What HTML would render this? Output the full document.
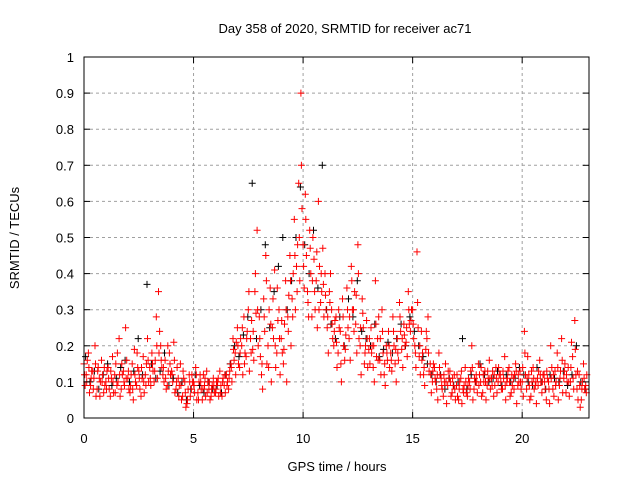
<!DOCTYPE html>
<html><head><meta charset="utf-8"><style>
body{margin:0;background:#fff}
svg{display:block;font-family:"Liberation Sans",sans-serif;font-size:13px}
</style></head><body>
<svg id="chart" width="640" height="480">
<rect width="640" height="480" fill="#fff"/>
<text x="345" y="33" text-anchor="middle">Day 358 of 2020, SRMTID for receiver ac71</text>
<g id="grid"></g>
<g id="series"></g>
<rect x="84" y="57" width="505" height="361" fill="none" stroke="#000"/>
<g id="axes"></g>
<text x="0" y="0" transform="translate(19,238) rotate(-90)" text-anchor="middle">SRMTID / TECUs</text>
<text x="337" y="471" text-anchor="middle">GPS time / hours</text>
</svg>
<script>
const xTicks=[0,5,10,15,20];
const yTicks=[0,0.1,0.2,0.3,0.4,0.5,0.6,0.7,0.8,0.9,1];
const yTickLabels=["0","0.1","0.2","0.3","0.4","0.5","0.6","0.7","0.8","0.9","1"];
const redA=[.15,.12,.18,.09,.13,.20,.08,.11,.16,.07,.10,.14,.06,.17,.12,.09,.22,.08,.13,.25,.11,.07,.15,.19,.09,.13,.06,.17,.12,.22,.14,.18,.10,.28,.35,.20,.12,.16,.09,.18,.13,.21,.08,.11,.15,.06,.10,.04,.12,.08,.10,.14,.07,.12,.05,.09,.13,.08,.06,.11,.07,.10,.13,.06,.09,.12,.08,.15,.22,.18,.25,.14,.20,.28,.17,.30,.22,.19,.35,.52,.28,.12,.33,.45,.20,.36,.25,.41,.18,.30,.22,.15,.38,.28,.45,.33,.55,.42,.65,.90,.48,.62,.35,.52,.28,.44,.38,.60,.32,.47,.40,.25,.35,.30,.20,.28,.18,.24,.33,.16,.36,.22,.42,.30,.26,.48,.20,.33,.15,.27,.19,.25,.14,.38,.22,.16,.30,.12,.20,.24,.18,.28,.15,.22,.32,.19,.26,.21,.35,.24,.30,.20,.46,.17,.24,.12,.19,.28,.15,.10,.14,.08,.18,.11,.06,.15,.09,.13,.07,.12,.09,.05,.11,.08,.14,.06,.10,.20,.08,.12,.15,.10,.07,.13,.09,.16,.11,.06,.14,.10,.12,.08,.17,.10,.14,.07,.11,.15,.09,.13,.10,.24,.08,.12,.06,.14,.09,.11,.16,.07,.12,.05,.10,.20,.08,.13,.18,.09,.22,.11,.07,.14,.10,.17,.27,.08,.12,.05,.15,.09];
const redB=[.09,.16,.07,.13,.11,.06,.14,.10,.12,.09,.13,.08,.11,.07,.15,.10,.06,.12,.09,.16,.08,.12,.05,.10,.14,.08,.11,.07,.15,.10,.09,.13,.16,.11,.24,.14,.10,.08,.13,.12,.10,.07,.14,.09,.05,.11,.03,.08,.06,.10,.07,.05,.10,.08,.12,.06,.10,.05,.09,.07,.10,.06,.09,.11,.07,.10,.13,.10,.16,.21,.15,.22,.12,.18,.24,.13,.27,.16,.29,.20,.17,.08,.24,.15,.30,.10,.22,.14,.27,.12,.18,.26,.10,.34,.20,.40,.30,.48,.38,.58,.36,.45,.28,.40,.50,.30,.25,.42,.35,.28,.30,.18,.40,.22,.27,.14,.25,.10,.20,.23,.25,.16,.30,.35,.18,.22,.12,.25,.20,.14,.15,.20,.10,.17,.28,.12,.18,.09,.16,.14,.13,.20,.10,.16,.24,.14,.20,.17,.26,.30,.22,.14,.25,.12,.18,.09,.22,.13,.07,.15,.10,.05,.12,.08,.10,.04,.11,.06,.09,.05,.06,.10,.04,.09,.07,.11,.13,.05,.10,.07,.12,.06,.10,.05,.11,.08,.13,.09,.07,.12,.08,.11,.05,.13,.06,.09,.12,.04,.10,.08,.06,.12,.17,.05,.10,.08,.04,.13,.10,.12,.08,.11,.04,.14,.06,.10,.05,.13,.07,.15,.10,.06,.21,.08,.12,.05,.03,.10,.08,.12];
const redC=[.12,.10,.14,.11,.08,.15,.13,.06,.10,.14,.08,.11,.13,.10,.07,.18,.12,.15,.10,.11,.13,.09,.08,.12,.18,.11,.14,.10,.09,.16,.11,.15,.13,.20,.18,.16,.14,.11,.20,.15,.12,.16,.10,.06,.09,.13,.07,.05,.10,.12,.09,.12,.05,.10,.08,.11,.07,.10,.08,.09,.08,.11,.07,.10,.12,.09,.11,.14,.19,.12,.20,.18,.25,.15,.22,.35,.18,.24,.40,.30,.22,.15,.28,.38,.14,.26,.33,.20,.36,.22,.27,.19,.30,.24,.38,.28,.45,.35,.50,.70,.42,.55,.32,.47,.38,.35,.46,.30,.40,.37,.34,.28,.32,.26,.24,.21,.30,.15,.28,.19,.30,.28,.38,.24,.34,.40,.25,.29,.18,.22,.22,.18,.20,.26,.16,.22,.24,.15,.18,.20,.16,.24,.19,.18,.28,.22,.23,.25,.30,.27,.26,.18,.32,.20,.16,.14,.24,.18,.12,.13,.11,.12,.14,.09,.12,.10,.13,.10,.11,.08,.12,.08,.13,.07,.10,.09,.08,.14,.11,.10,.09,.14,.12,.10,.13,.11,.09,.12,.11,.14,.10,.13,.09,.11,.10,.12,.08,.13,.12,.10,.14,.18,.11,.09,.13,.11,.10,.09,.12,.10,.10,.13,.08,.11,.12,.09,.14,.11,.16,.13,.12,.10,.14,.11,.19,.13,.09,.08,.11,.07];
const black=[.17,.10,.13,.08,.12,.15,.09,.11,.14,.16,.10,.13,.22,.12,.37,.15,.11,.13,.18,.09,.11,.07,.10,.05,.08,.12,.09,.07,.10,.08,.09,.07,.12,.15,.20,.17,.23,.28,.65,.22,.30,.48,.25,.35,.42,.50,.30,.38,.50,.64,.48,.40,.52,.36,.70,.30,.26,.22,.28,.20,.33,.28,.38,.24,.22,.20,.26,.17,.19,.21,.18,.22,.26,.20,.28,.24,.20,.17,.15,.12,.10,.12,.08,.11,.09,.10,.22,.08,.12,.10,.15,.12,.10,.11,.13,.09,.12,.10,.11,.14,.12,.10,.09,.14,.10,.08,.12,.11,.10,.13,.09,.12,.20,.10,.08];
const X0=84,X1=589,XMAX=23.05,Y0=418,Y1=57;
const sx=v=>X0+v/XMAX*(X1-X0);
const sy=v=>Y0-v*(Y0-Y1);
const NS="http://www.w3.org/2000/svg";
const grid=document.getElementById('grid'),axes=document.getElementById('axes'),ser=document.getElementById('series');
function mk(tag,at,par){const e=document.createElementNS(NS,tag);for(const k in at)e.setAttribute(k,at[k]);par.appendChild(e);return e;}
yTicks.forEach((v,i)=>{
  const y=sy(v);
  if(i>0&&i<yTicks.length-1){const g=mk('line',{x1:X0,x2:X1,y1:y,y2:y,stroke:'#a0a0a0','stroke-dasharray':'3,3'},grid);
  
  }
  mk('line',{x1:X0,x2:X0+6,y1:y,y2:y,stroke:'#000'},axes);
  mk('line',{x1:X1,x2:X1-6,y1:y,y2:y,stroke:'#000'},axes);
  const t=mk('text',{x:X0-10,y:y+5,'text-anchor':'end'},axes);t.textContent=yTickLabels[i];
  
  
});
xTicks.forEach(v=>{
  const x=sx(v);
  if(v>0){const g=mk('line',{x1:x,x2:x,y1:Y0,y2:Y1,stroke:'#a0a0a0','stroke-dasharray':'3,3'},grid);
  
  }
  mk('line',{x1:x,x2:x,y1:Y0,y2:Y0-6,stroke:'#000'},axes);
  mk('line',{x1:x,x2:x,y1:Y1,y2:Y1+6,stroke:'#000'},axes);
  const t=mk('text',{x:x,y:Y0+25,'text-anchor':'middle'},axes);t.textContent=String(v);
  
  
});
function plot(arr,off,step,color,name){
  let d='';
  arr.forEach((v,i)=>{const x=sx(off+i*step),y=sy(v);d+=`M${(x-3.5).toFixed(1)} ${y.toFixed(1)}h7M${x.toFixed(1)} ${(y-3.5).toFixed(1)}v7`;});
  const p=mk('path',{d:d,stroke:color,'stroke-width':1,fill:'none'},ser);
  
  
}
plot(black,0.075,0.2,'#000','series-black');
plot(redB,0.05,0.1,'#f00','series-red-b');
plot(redC,0.025,0.1,'#f00','series-red-c');
plot(redA,0,0.1,'#f00','series-red-a');
</script>
</body></html>
